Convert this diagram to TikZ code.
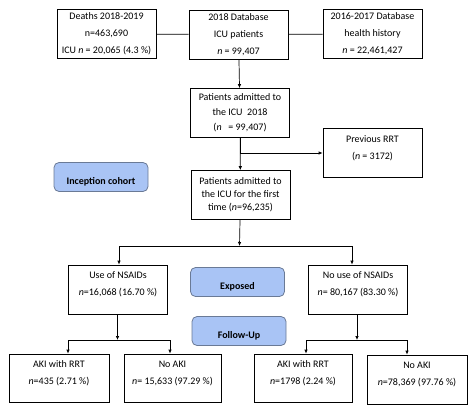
\documentclass[tikz,border=0pt]{standalone}
\usepackage{fontspec}
\setmainfont{Carlito}
\usepackage{tikz}
\usetikzlibrary{arrows.meta}

\definecolor{tagfill}{HTML}{A9C4F5}
\definecolor{tagline}{HTML}{6A7A96}
\newcommand{\nn}{\textit{n}}

\tikzset{
  box/.style={draw, line width=0.7pt, align=center, inner sep=2pt,
    font=\fontsize{10}{17}\selectfont, minimum width=99pt, minimum height=49pt},
  twoline/.style={box, text depth=11pt},
  tag/.style={draw=tagline, line width=0.8pt, fill=tagfill, rounded corners=5pt,
    font=\bfseries\fontsize{10}{12}\selectfont, minimum width=94pt, minimum height=29pt,
    text height=17pt}
}

\begin{document}
\begin{tikzpicture}[x=1pt, y=-1pt, >={Latex[length=4pt,width=3.5pt]}, line width=0.7pt]
      \useasboundingbox (0,0) rectangle (474,405);
      \node [box] (deaths) at (106.5,34) {Deaths 2018-2019\\ n=463,690\\ ICU \nn{} = 20,065 (4.3~\%)};
      \node [box] (db) at (238.5,34.5) {2018 Database\\ ICU patients\\ \nn{} = 99,407};
      \node [box] (hist) at (372.5,34) {2016-2017 Database\\ health history\\ \nn{} = 22,461,427};
      \node [box, font=\fontsize{10}{15}\selectfont] (adm) at (240,113) {Patients admitted to\\ the ICU~~2018\\ (\nn~~~= 99,407)};
      \node [twoline] (prev) at (372.5,153) {Previous RRT\\ (\nn{} = 3172)};
      \node [box, font=\fontsize{10}{13}\selectfont] (first) at (240.5,195) {Patients admitted to\\ the ICU for the first\\ time (\nn=96,235)};
      \node [tag] (incep) at (101,177) {Inception cohort};
      \node [twoline] (use) at (118,289.5) {Use of NSAIDs\\ \nn=16,068 (16.70~\%)};
      \node [tag] (exp) at (237.5,282) {Exposed};
      \node [twoline] (nouse) at (358,289.5) {No use of NSAIDs\\ \nn= 80,167 (83.30~\%)};
      \node [tag] (fup) at (239,331) {Follow-Up};
      \node [twoline, minimum width=100pt, minimum height=48pt] (aki1) at (59,378) {AKI with RRT\\ \nn=435 (2.71~\%)};
      \node [twoline, minimum width=97pt, minimum height=48pt] (noaki1) at (172.5,378) {No AKI\\ \nn= 15,633 (97.29~\%)};
      \node [twoline, minimum width=98pt, minimum height=48pt] (aki2) at (303,378) {AKI with RRT\\ \nn=1798 (2.24~\%)};
      \node [twoline, minimum width=100pt] (noaki2) at (417,379.5) {No AKI\\ \nn=78,369 (97.76~\%)};
      % split points
      \coordinate (split) at (239.5,246);
      \coordinate (splitL) at (119,246);
      \coordinate (splitR) at (352,246);
      \coordinate (useS) at (117.5,340);
      \coordinate (useL) at (68,340);
      \coordinate (useR) at (170,340);
      \coordinate (nouseS) at (357,340);
      \coordinate (nouseL) at (306,340);
      \coordinate (nouseR) at (407,340);
      \draw (deaths) -- (db);
      \draw (db) -- (hist);
      \draw [->] (db) -- (adm);
      \draw [->] (adm) |- (prev);
      \draw [->] (adm) -- (first);
      \draw [->] (first) -- (split);
      \draw (splitL) -- (splitR);
      \draw [->] (splitL) -- (splitL |- use.north);
      \draw [->] (splitR) -- (splitR |- nouse.north);
      \draw [->] (use.south -| useS) -- (useS);
      \draw (useL) -- (useR);
      \draw [->] (useL) -- (useL |- aki1.north);
      \draw [->] (useR) -- (useR |- noaki1.north);
      \draw [->] (nouse.south -| nouseS) -- (nouseS);
      \draw (nouseL) -- (nouseR);
      \draw [->] (nouseL) -- (nouseL |- aki2.north);
      \draw [->] (nouseR) -- (nouseR |- noaki2.north);
\end{tikzpicture}
\end{document}
